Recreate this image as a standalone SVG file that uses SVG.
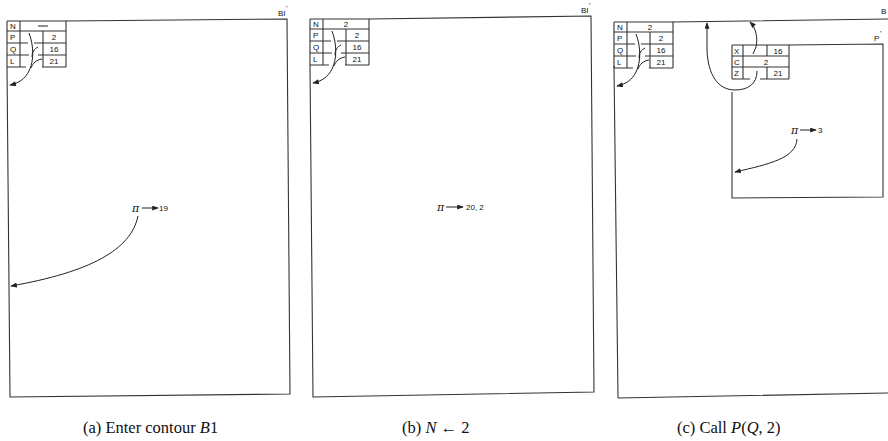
<svg xmlns="http://www.w3.org/2000/svg" width="888" height="441" viewBox="0 0 888 441">
<style>
.ln{stroke:#333;fill:none;stroke-width:1.1}
.cv{stroke:#222;fill:none;stroke-width:1}
.t{font-family:"Liberation Sans",Arial,sans-serif;font-size:8px;fill:#111}
.tc{font-family:"Liberation Sans",Arial,sans-serif;font-size:8px;fill:#111;text-anchor:middle}
.pi{font-family:"DejaVu Serif",serif;font-size:11px;fill:#111;font-style:italic}
.cap{font-family:"Liberation Serif","Times New Roman",serif;font-size:16.5px;fill:#111}
</style>
<defs>
<marker id="ah" viewBox="0 0 8 6" refX="7" refY="3" markerWidth="7" markerHeight="5" markerUnits="userSpaceOnUse" orient="auto">
<path d="M0,0 L8,3 L0,6 z" fill="#222"/>
</marker>
<g id="grid">
<path class="ln" d="M0,0 H59 V46 M0,0 V46 M13,0 V46 M0,10 H59 M36,10 V46 M0,22 H21 M27,22 H59 M0,34 H22 M31,34 H59 M0,46 H19 M35,46 H59"/>
<path class="cv" d="M22,12 C27,25 27,40 22,50 C18,58 12,62 3,64" marker-end="url(#ah)"/>
<path class="cv" d="M31,26 C27,28 25,31 25,36"/>
<path class="cv" d="M35,38 C29,39 26,42 24,47"/>
</g>
</defs>

<g id="panel-a">
<path class="ln" d="M66,21 L287,19 L290,394 L10,397 L7,67"/>
<text class="t" x="278" y="16">BI</text><text class="t" x="286" y="11" font-size="6">'</text>
<g id="table-a" transform="translate(7,21)">
<use href="#grid"/>
<text class="t" x="3" y="8">N</text>
<text class="t" x="3" y="19">P</text>
<text class="t" x="3" y="31">Q</text>
<text class="t" x="3" y="43">L</text>
<path class="ln" d="M31,5 H41"/>
<text class="tc" x="47" y="19">2</text>
<text class="tc" x="47" y="31">16</text>
<text class="tc" x="47" y="43">21</text>
</g>
<g id="pi-a">
<text class="pi" x="132" y="212">π</text>
<line class="cv" x1="142" y1="208" x2="158" y2="208" marker-end="url(#ah)"/>
<text class="t" x="159" y="211">19</text>
<path class="cv" d="M138,216 C131,250 90,272 11,286" marker-end="url(#ah)"/>
</g>
</g>

<g id="panel-b">
<path class="ln" d="M369,19 L591,16 L594,392 L313,397 L310,65"/>
<text class="t" x="581" y="13">BI</text><text class="t" x="589" y="8" font-size="6">'</text>
<g id="table-b" transform="translate(310,19)">
<use href="#grid"/>
<text class="t" x="3" y="8">N</text>
<text class="t" x="3" y="19">P</text>
<text class="t" x="3" y="31">Q</text>
<text class="t" x="3" y="43">L</text>
<text class="tc" x="36" y="8">2</text>
<text class="tc" x="47" y="19">2</text>
<text class="tc" x="47" y="31">16</text>
<text class="tc" x="47" y="43">21</text>
</g>
<g id="pi-b">
<text class="pi" x="437" y="211">π</text>
<line class="cv" x1="446" y1="207" x2="463" y2="207" marker-end="url(#ah)"/>
<text class="t" x="466" y="210">20, 2</text>
</g>
</g>

<g id="panel-c">
<path class="ln" d="M673,22 L888,19 M618,398 L888,393 M618,398 L614,66"/>
<text class="t" x="881" y="14">B</text>
<g id="table-c" transform="translate(614,22)">
<use href="#grid"/>
<text class="t" x="3" y="8">N</text>
<text class="t" x="3" y="19">P</text>
<text class="t" x="3" y="31">Q</text>
<text class="t" x="3" y="43">L</text>
<text class="tc" x="36" y="8">2</text>
<text class="tc" x="47" y="19">2</text>
<text class="tc" x="47" y="31">16</text>
<text class="tc" x="47" y="43">21</text>
</g>
<g id="box-p">
<path class="ln" d="M789,45 L883,44 L883,197 L732,198 L732,92"/>
<text class="t" x="874" y="41">P</text><text class="t" x="880" y="36" font-size="6">'</text>
<g id="table-p" transform="translate(732,45)">
<path class="ln" d="M0,0 H57 V34 M0,0 V34 M11,0 V34 M0,11 H57 M0,22 H57 M35,0 V11 M35,22 V34 M0,34 H18 M28,34 H57"/>
<text class="t" x="2" y="9">X</text>
<text class="t" x="2" y="20">C</text>
<text class="t" x="2" y="31">Z</text>
<text class="tc" x="46" y="9">16</text>
<text class="tc" x="34" y="20">2</text>
<text class="tc" x="46" y="31">21</text>
</g>
</g>
<g id="pi-c">
<text class="pi" x="791" y="134">π</text>
<line class="cv" x1="800" y1="130" x2="816" y2="130" marker-end="url(#ah)"/>
<text class="t" x="818" y="133">3</text>
<path class="cv" d="M797,139 C796,158 770,164 735,172" marker-end="url(#ah)"/>
</g>
</g>

<g id="connectors">
<path class="cv" d="M757,71 C757,84 748,90 735,90 C718,90 708,75 707,50 L707,23" marker-end="url(#ah)"/>
<path class="cv" d="M753,54 L756,47 C758,38 756,28 750,22" marker-end="url(#ah)"/>
</g>

<g id="captions">
<text class="cap" x="83" y="433">(a) Enter contour <tspan font-style="italic">B</tspan>1</text>
<text class="cap" x="402" y="433">(b) <tspan font-style="italic">N</tspan> ← 2</text>
<text class="cap" x="677" y="433">(c) Call <tspan font-style="italic">P</tspan>(<tspan font-style="italic">Q</tspan>, 2)</text>
</g>
</svg>
